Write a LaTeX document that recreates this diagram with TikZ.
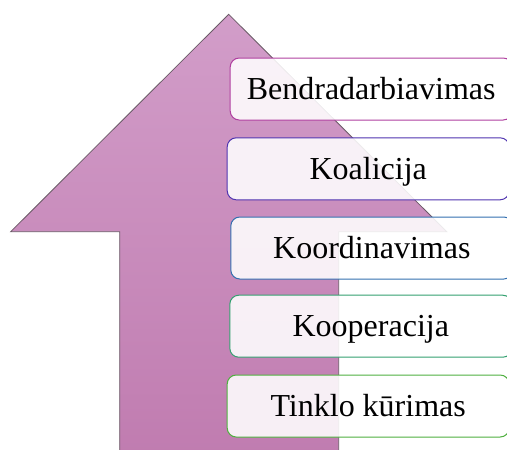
\documentclass[tikz,border=0pt]{standalone}
\usepackage{fontspec}
\setmainfont{Liberation Serif}
\definecolor{arrowtop}{HTML}{D29DC9}
\definecolor{arrowbot}{HTML}{C07CB0}
\definecolor{arrowline}{HTML}{6A5A66}
\definecolor{bordA}{HTML}{B040A0}
\definecolor{bordB}{HTML}{5034B0}
\definecolor{bordC}{HTML}{3470B0}
\definecolor{bordD}{HTML}{34A070}
\definecolor{bordE}{HTML}{50B040}
\tikzset{
  stage/.style={draw, line width=1pt, rounded corners=9pt, fill=white,
    fill opacity=0.88, text opacity=1, minimum width=282pt, minimum height=62pt,
    anchor=west, text height=26pt, text depth=5.4pt,
    font=\fontsize{32}{38}\selectfont}
}
\begin{document}
\begin{tikzpicture}[x=1pt,y=-1pt]
  \clip (0,0) rectangle (507,450);
  % the big arrow
  \shade[top color=arrowtop, bottom color=arrowbot, draw=arrowline, line width=0.8pt]
    (228.7,14.3) -- (446.7,231.7) -- (338.7,231.7) -- (338.7,455)
    -- (119.7,455) -- (119.7,231.7) -- (10.7,231.7) -- cycle;
  % stages, top one first
  \node[stage, draw=bordA] (b1) at (229.7,89) {Bendradarbiavimas};
  \node[stage, draw=bordB] (b2) at (226.7,168.8) {Koalicija};
  \node[stage, draw=bordC] (b3) at (230.3,248) {Koordinavimas};
  \node[stage, draw=bordD] (b4) at (229.3,326.2) {Kooperacija};
  \node[stage, draw=bordE] (b5) at (226.7,406) {Tinklo kūrimas};
\end{tikzpicture}
\end{document}
